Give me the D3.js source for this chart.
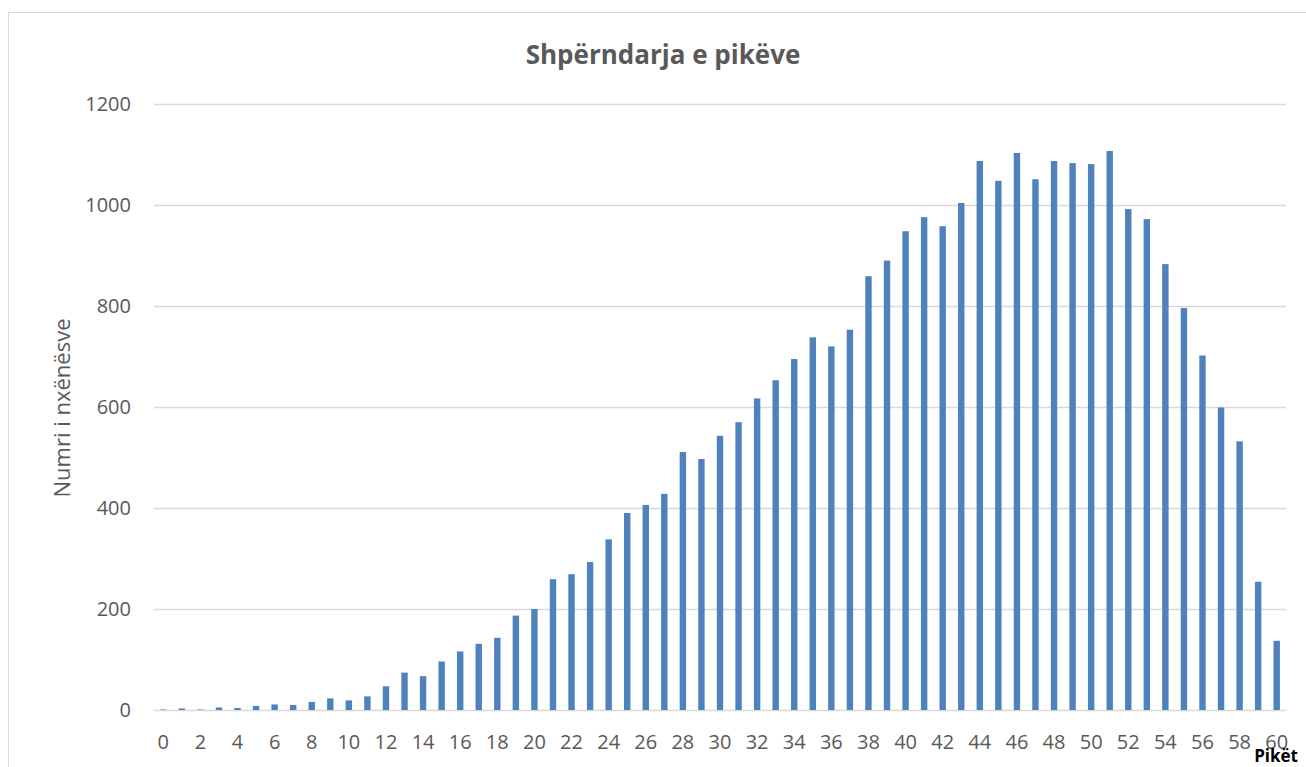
<!DOCTYPE html>
<html>
<head>
<meta charset="utf-8">
<script src="https://cdn.jsdelivr.net/npm/d3@7"></script>
<style>
  body { margin: 0; background: #fff; }
  svg text { font-family: "Open Sans", "Liberation Sans", sans-serif; }
</style>
</head>
<body>
<div id="chart"></div>
<script>
const width = 1306;
const height = 767;

// Data
const points = d3.range(0, 61); // 0..60 points
const students = [
  1, 3, 1, 5, 4, 8, 11, 10, 16, 23,
  19, 27, 47, 74, 67, 96, 116, 131, 143, 187,
  200, 259, 269, 293, 338, 390, 406, 428, 511, 497,
  543, 570, 617, 653, 695, 738, 720, 753, 859, 890,
  948, 976, 958, 1004, 1087, 1048, 1103, 1051, 1087, 1083,
  1081, 1107, 992, 972, 883, 796, 702, 599, 532, 254,
  137
];
const yTicks = [0, 200, 400, 600, 800, 1000, 1200];

const margin = { top: 104, left: 154 };
const plotW = 1132;
const plotH = 606;

const svg = d3.select("#chart")
    .append("svg")
    .attr("width", width)
    .attr("height", height);

// chart frame (runs off the right and bottom edge)
svg.append("rect")
    .attr("x", 8.5)
    .attr("y", 12.5)
    .attr("width", 1320)
    .attr("height", 800)
    .attr("fill", "none")
    .attr("stroke", "#d9d9d9")
    .attr("stroke-width", 1);

const g = svg.append("g")
    .attr("transform", `translate(${margin.left}, ${margin.top})`);

const x = d3.scaleBand()
    .domain(points)
    .range([0, plotW])
    .paddingInner(0.655)
    .paddingOuter(0.3275);

const y = d3.scaleLinear()
    .domain([0, 1200])
    .range([plotH, 0]);

// gridlines
g.append("g")
    .selectAll("line")
    .data(yTicks)
    .enter()
    .append("line")
    .attr("x1", 0)
    .attr("x2", plotW)
    .attr("y1", d => Math.round(y(d)) + 0.5)
    .attr("y2", d => Math.round(y(d)) + 0.5)
    .attr("stroke", "#d9d9d9")
    .attr("stroke-width", 1.3);

// y tick labels
g.append("g")
    .selectAll("text")
    .data(yTicks)
    .enter()
    .append("text")
    .attr("x", -23)
    .attr("y", d => y(d))
    .attr("dy", "0.36em")
    .attr("text-anchor", "end")
    .attr("fill", "#595959")
    .style("font-size", "20px")
    .text(d => d);

// bars
g.append("g")
    .selectAll("rect")
    .data(students)
    .enter()
    .append("rect")
    .attr("x", (d, i) => x(points[i]))
    .attr("y", d => y(d))
    .attr("width", x.bandwidth())
    .attr("height", d => y(0) - y(d))
    .attr("fill", "#4f81bd");

// x tick labels, every second point
g.append("g")
    .selectAll("text")
    .data(points.filter(p => p % 2 === 0))
    .enter()
    .append("text")
    .attr("x", d => x(d) + x.bandwidth() / 2)
    .attr("y", y(0) + 39)
    .attr("text-anchor", "middle")
    .attr("fill", "#595959")
    .style("font-size", "20px")
    .text(d => d);

// title
svg.append("text")
    .attr("x", 663)
    .attr("y", 64)
    .attr("text-anchor", "middle")
    .attr("fill", "#595959")
    .style("font-size", "26px")
    .style("font-weight", "bold")
    .text("Shpërndarja e pikëve");

// y axis title
svg.append("text")
    .attr("transform", "rotate(-90)")
    .attr("x", -408)
    .attr("y", 70)
    .attr("text-anchor", "middle")
    .attr("fill", "#595959")
    .style("font-size", "22px")
    .text("Numri i nxënësve");

// x axis title
svg.append("text")
    .attr("x", 1298)
    .attr("y", 762)
    .attr("text-anchor", "end")
    .attr("fill", "#000")
    .style("font-size", "17px")
    .style("font-weight", "bold")
    .text("Pikët");
</script>
</body>
</html>
